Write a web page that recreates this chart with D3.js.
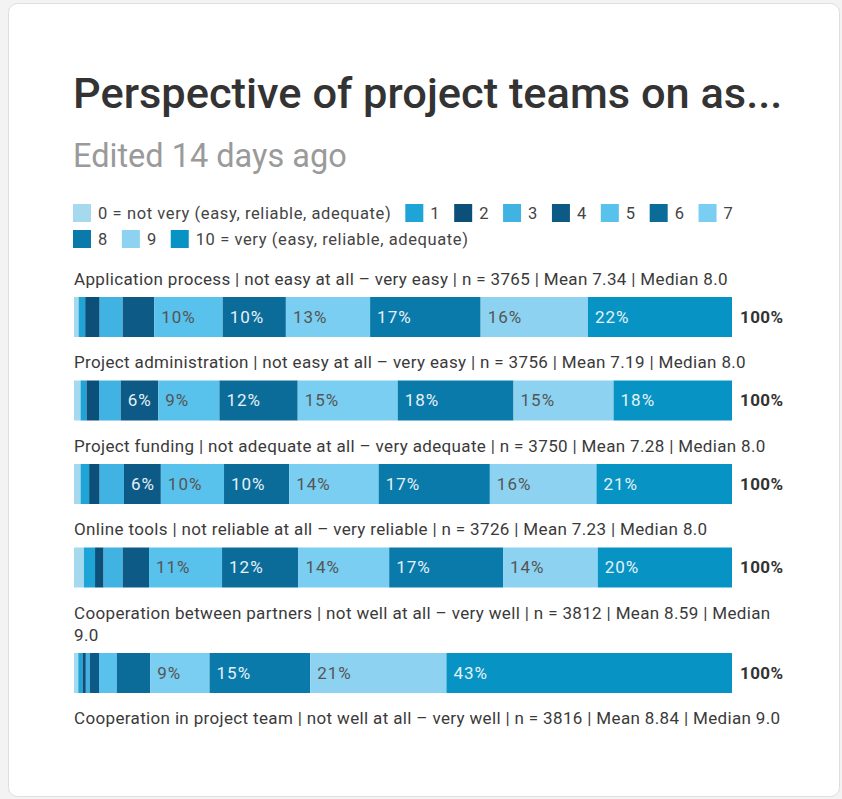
<!DOCTYPE html>
<html>
<head>
<meta charset="utf-8">
<script src="https://cdn.jsdelivr.net/npm/d3@7"></script>
<style>
  html, body { margin: 0; padding: 0; background: #f3f3f3; }
  body { width: 842px; height: 799px; overflow: hidden; font-family: Roboto, "Noto Sans", sans-serif; }
  svg { display: block; }
</style>
</head>
<body>
<svg id="chart" width="842" height="799"></svg>
<script>
// ---- chart content ----
const chartTitle = "Perspective of project teams on as...";
const chartSubtitle = "Edited 14 days ago";

// answer scale 0..10
const levels = ["0", "1", "2", "3", "4", "5", "6", "7", "8", "9", "10"];
const legendLabels = [
  "0 = not very (easy, reliable, adequate)", "1", "2", "3", "4", "5", "6", "7", "8", "9",
  "10 = very (easy, reliable, adequate)"
];
const levelColors = [
  "#a5daee", "#1fa4d7", "#0c5079", "#40b3e2", "#0e5a86", "#58c1ec",
  "#0b6c9a", "#7acef2", "#0a7aab", "#8dd3f1", "#0794c4"
];
const levelTextColors = [
  "#555555", "#e4f1f7", "#e4f1f7", "#555555", "#e4f1f7", "#555555",
  "#e4f1f7", "#555555", "#e4f1f7", "#555555", "#e4f1f7"
];

const questions = [
  "Application process | not easy at all – very easy | n = 3765 | Mean 7.34 | Median 8.0",
  "Project administration | not easy at all – very easy | n = 3756 | Mean 7.19 | Median 8.0",
  "Project funding | not adequate at all – very adequate | n = 3750 | Mean 7.28 | Median 8.0",
  "Online tools | not reliable at all – very reliable | n = 3726 | Mean 7.23 | Median 8.0",
  "Cooperation between partners | not well at all – very well | n = 3812 | Mean 8.59 | Median 9.0",
  "Cooperation in project team | not well at all – very well | n = 3816 | Mean 8.84 | Median 9.0"
];

// share of answers (%) per level 0..10, one array per question
const applicationProcess    = [0.7, 1.0, 2.2, 3.5, 4.8, 10.4, 9.6, 12.8, 16.8, 16.3, 21.9];
const projectAdministration = [1.0, 0.9, 1.9, 3.3, 5.7, 9.3, 11.9, 15.2, 17.6, 15.2, 18.0];
const projectFunding        = [1.0, 1.3, 1.6, 3.7, 5.6, 9.6, 9.9, 13.6, 16.9, 16.2, 20.6];
const onlineTools           = [1.5, 1.7, 1.3, 2.9, 4.0, 11.1, 11.6, 13.8, 17.3, 14.4, 20.4];
const partnerCooperation    = [0.65, 0.65, 0.5, 0.6, 1.4, 2.7, 5.1, 9.0, 15.3, 20.7, 43.4];
const seriesValues = [applicationProcess, projectAdministration, projectFunding, onlineTools, partnerCooperation];

const minLabelShare = 5.5;

// ---- drawing ----
const svg = d3.select("#chart");
const left = 74, right = 732;

// card
svg.append("rect")
  .attr("x", 8.5).attr("y", 3.5)
  .attr("width", 831).attr("height", 793)
  .attr("rx", 9)
  .attr("fill", "#ffffff")
  .attr("stroke", "#dedede");

svg.append("text")
  .attr("x", 73).attr("y", 108)
  .attr("font-size", 43.4).attr("font-weight", 500)
  .attr("fill", "#333333")
  .text(chartTitle);

svg.append("text")
  .attr("x", 73).attr("y", 167)
  .attr("font-size", 32.5)
  .attr("fill", "#9a9a9a")
  .text(chartSubtitle);

// legend (flowing rows)
const legend = svg.append("g")
  .attr("font-size", 16.5).attr("letter-spacing", 0.6).attr("fill", "#444444");
const sw = 18, swPad = 7, itemGap = 14, legendRowH = 26, legendMaxX = 782;
let lx = 73, ly = 213;
legendLabels.forEach((lab, i) => {
  const g = legend.append("g");
  const t = g.append("text").attr("dy", "0.35em").text(lab);
  const tw = t.node().getComputedTextLength();
  const w = sw + swPad + tw;
  if (lx + w > legendMaxX) { lx = 73; ly += legendRowH; }
  g.append("rect")
    .attr("x", lx).attr("y", ly - sw / 2)
    .attr("width", sw).attr("height", sw)
    .attr("fill", levelColors[i]);
  t.attr("x", lx + sw + swPad).attr("y", ly);
  lx += w + itemGap;
});

const x = d3.scaleLinear().domain([0, 100]).range([left, right]);

const stack = d3.stack().keys(levels.map((d, i) => i)).value((row, k) => row[k]);
const stacked = stack(seriesValues);

const labelFont = 17, labelSpacing = 0.35;

// word wrap for the question labels
function wrapLines(str, maxW) {
  const probe = svg.append("text").attr("font-size", labelFont).attr("letter-spacing", labelSpacing);
  const words = str.split(" ");
  const lines = [];
  let cur = "";
  words.forEach(w => {
    const test = cur ? cur + " " + w : w;
    probe.text(test);
    if (probe.node().getComputedTextLength() > maxW && cur) {
      lines.push(cur);
      cur = w;
    } else {
      cur = test;
    }
  });
  if (cur) lines.push(cur);
  probe.remove();
  return lines;
}

const lineH = 22, labelToBar = 18, barH = 40, barToNext = 25.5;
let cy = 279;
const body = svg.append("g");

questions.forEach((q, qi) => {
  const lines = wrapLines(q, 714);
  const lab = body.append("text")
    .attr("font-size", labelFont).attr("letter-spacing", labelSpacing).attr("fill", "#3a3a3a");
  lines.forEach((ln, j) => {
    lab.append("tspan").attr("x", left).attr("y", cy + j * lineH).attr("dy", "0.35em").text(ln);
  });
  const lastCenter = cy + (lines.length - 1) * lineH;
  if (qi >= seriesValues.length) return;

  const top = lastCenter + labelToBar;
  const row = body.append("g");
  stacked.forEach((layer, k) => {
    const seg = layer[qi];
    row.append("rect")
      .attr("x", x(seg[0]))
      .attr("y", top)
      .attr("width", x(seg[1]) - x(seg[0]))
      .attr("height", barH)
      .attr("fill", levelColors[k]);
  });
  stacked.forEach((layer, k) => {
    const seg = layer[qi];
    const v = seg[1] - seg[0];
    if (v < minLabelShare) return;
    row.append("text")
      .attr("x", x(seg[0]) + 7)
      .attr("y", top + barH / 2)
      .attr("dy", "0.35em")
      .attr("font-size", 17).attr("letter-spacing", 1)
      .attr("fill", levelTextColors[k])
      .text(Math.round(v) + "%");
  });
  row.append("text")
    .attr("x", x(100) + 8)
    .attr("y", top + barH / 2)
    .attr("dy", "0.35em")
    .attr("font-size", 17).attr("letter-spacing", 0.4).attr("font-weight", 700)
    .attr("fill", "#333333")
    .text(Math.round(d3.sum(seriesValues[qi])) + "%");

  cy = top + barH + barToNext;
});
</script>
</body>
</html>
